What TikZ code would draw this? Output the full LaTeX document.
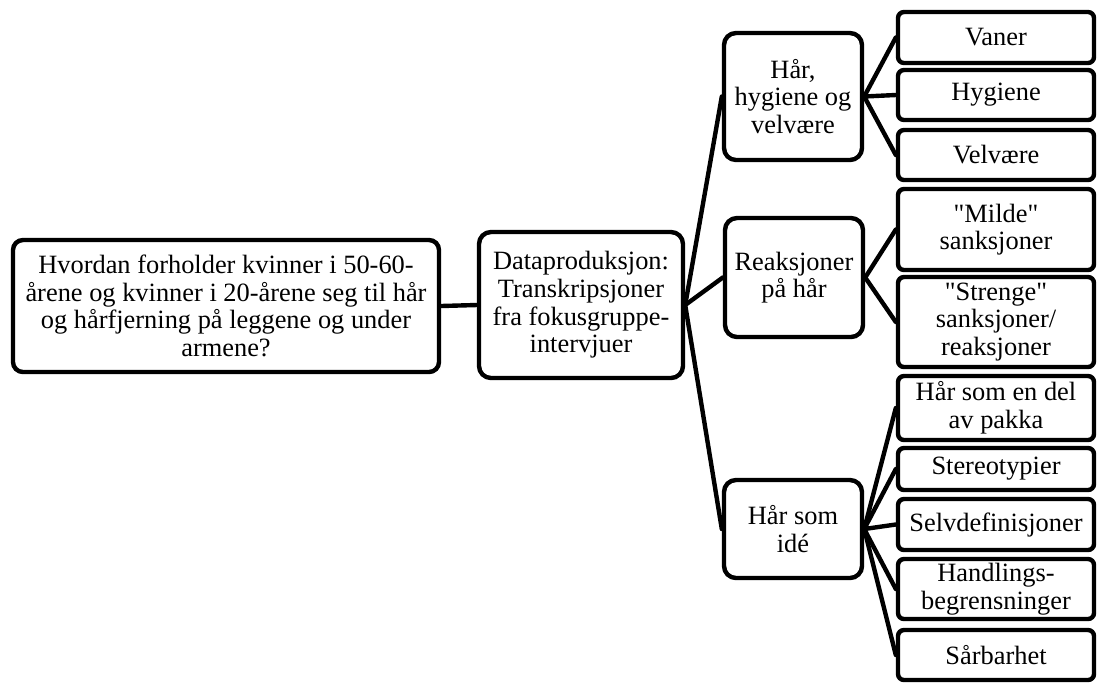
\documentclass[tikz,border=0pt]{standalone}
\usepackage{fontspec}
\setmainfont[Ligatures=TeXOff]{Liberation Serif}
\tikzstyle{link} = [line width=2.2pt, line cap=round]

\begin{document}
\begin{tikzpicture}[x=0.5pt, y=-0.5pt,
		region/.style={
			rectangle,
			draw,
			line width=2.2pt,
			rounded corners=6pt,
			inner sep=0pt,
			align=center,
			font=\fontsize{13.2}{13.8}\selectfont},
		theme/.style={region, minimum width=69pt},
		leaf/.style={region, rounded corners=3pt, minimum width=98pt}]
		\useasboundingbox (0,0) rectangle (1097,682);

		\node (question) [region, rounded corners=5pt, minimum width=213pt, minimum height=66pt] at (226,306) {Hvordan forholder kvinner i 50-60-\\årene og kvinner i 20-årene seg til hår\\og hårfjerning på leggene og under\\armene?};
		\node (data) [region, minimum width=102pt, minimum height=73pt] at (581,305) {Dataproduksjon:\\Transkripsjoner\\fra fokusgruppe-\\intervjuer};

		\node (hygiene) [theme, minimum height=63.5pt] at (793,96.5) {Hår,\\hygiene og\\velvære};
		\node (reaksjon) [theme, minimum height=59.5pt] at (794,277.5) {Reaksjoner\\på hår};
		\node (ide) [theme, minimum height=49pt] at (793,529) {Hår som\\idé};

		\node (vaner) [leaf, minimum height=25.5pt] at (996,37.5) {Vaner};
		\node (hyg) [leaf, minimum height=25pt] at (996,95) {Hygiene};
		\node (velv) [leaf, minimum height=25pt] at (996,155) {Velvære};
		\node (milde) [leaf, minimum height=40.5pt] at (996,229.5) {"Milde"\\sanksjoner};
		\node (strenge) [leaf, minimum height=45pt] at (996,322) {"Strenge"\\sanksjoner/\\reaksjoner};
		\node (pakka) [leaf, minimum height=32pt] at (996,408) {Hår som en del\\av pakka};
		\node (stereo) [leaf, minimum height=21pt] at (996,469) {Stereotypier};
		\node (selvdef) [leaf, minimum height=25.5pt] at (996,524.5) {Selvdefinisjoner};
		\node (handling) [leaf, minimum height=30pt] at (996,589) {Handlings-\\begrensninger};
		\node (saarbar) [leaf, minimum height=25pt] at (996,655) {Sårbarhet};

		\draw[link] (question.east) -- (data.west);
		\foreach \t in {hygiene, reaksjon, ide}
			\draw[link] (data.east) -- (\t.west);
		\foreach \l in {vaner, hyg, velv}
			\draw[link] (hygiene.east) -- (\l.west);
		\foreach \l in {milde, strenge}
			\draw[link] (reaksjon.east) -- (\l.west);
		\foreach \l in {pakka, stereo, selvdef, handling, saarbar}
			\draw[link] (ide.east) -- (\l.west);
	\end{tikzpicture}
\end{document}
